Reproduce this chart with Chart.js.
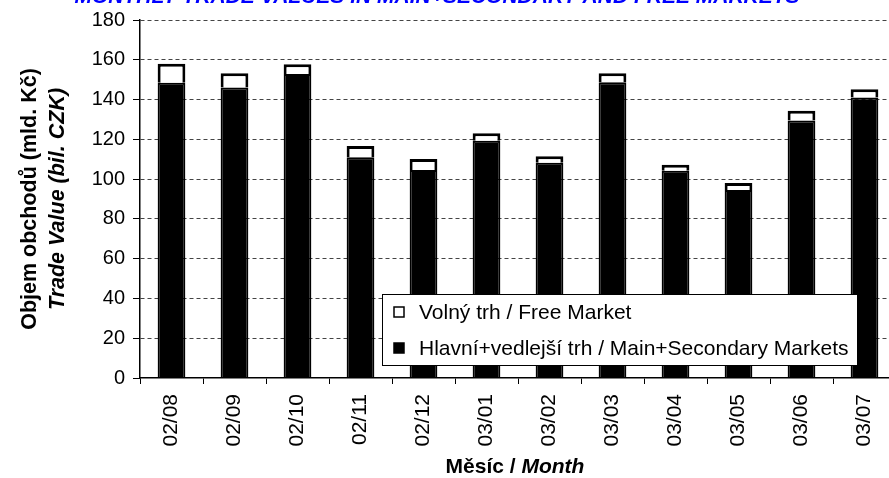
<!DOCTYPE html>
<html>
<head>
<meta charset="utf-8">
<script src="https://cdn.jsdelivr.net/npm/chart.js@4.4.1/dist/chart.umd.min.js"></script>
<style>
  html, body { margin: 0; padding: 0; background: #fff; overflow: hidden; }
  #wrap { position: relative; width: 900px; height: 478px; }
</style>
</head>
<body>
<div id="wrap"><canvas id="chart"></canvas></div>
<script>
const months = ['02/08', '02/09', '02/10', '02/11', '02/12', '03/01', '03/02', '03/03', '03/04', '03/05', '03/06', '03/07'];
const mainMarkets = [148.5, 146, 152.8, 111, 104.6, 119.3, 108.2, 148.7, 104.2, 94.5, 129.5, 141];
const freeMarket = [9.5, 7.2, 5, 5.7, 5.5, 3.7, 3.3, 4.5, 3, 3.5, 4.9, 4.2];
const yTicks = [0, 20, 40, 60, 80, 100, 120, 140, 160, 180];

const chartTitle = 'MONTHLY TRADE VALUES IN MAIN+SECONDARY AND FREE MARKETS';
const yTitle1 = 'Objem obchodů (mld. Kč)';
const yTitle2 = 'Trade Value (bil. CZK)';
const xTitle1 = 'Měsíc / ';
const xTitle2 = 'Month';

const FONT = '"Liberation Sans", Arial, sans-serif';

// title, axis titles with mixed styles and the boxed legend
const extras = {
    id: 'extras',
    afterDraw(chart){
        const ctx = chart.ctx;
        const area = chart.chartArea;
        ctx.save();

        ctx.fillStyle = '#0000ff';
        ctx.font = 'italic bold 21px ' + FONT;
        ctx.textAlign = 'center';
        ctx.textBaseline = 'alphabetic';
        ctx.fillText(chartTitle, 437, 3);

        ctx.fillStyle = '#000';
        const midY = (area.top + area.bottom) / 2;
        ctx.translate(0, midY);
        ctx.rotate(-Math.PI / 2);
        ctx.textBaseline = 'middle';
        ctx.font = 'bold 21.5px ' + FONT;
        ctx.fillText(yTitle1, 0, 30);
        ctx.font = 'italic bold 21.5px ' + FONT;
        ctx.fillText(yTitle2, 0, 58);
        ctx.setTransform(1, 0, 0, 1, 0, 0);

        ctx.textAlign = 'left';
        ctx.font = 'bold 21px ' + FONT;
        const w1 = ctx.measureText(xTitle1).width;
        ctx.font = 'italic bold 21px ' + FONT;
        const w2 = ctx.measureText(xTitle2).width;
        const x0 = 515 - (w1 + w2) / 2;
        ctx.font = 'bold 21px ' + FONT;
        ctx.fillText(xTitle1, x0, 467);
        ctx.font = 'italic bold 21px ' + FONT;
        ctx.fillText(xTitle2, x0 + w1, 467);

        // legend box
        const lx = 382, ly = 294, lw = 475, lh = 71;
        ctx.fillStyle = '#fff';
        ctx.fillRect(lx, ly, lw, lh);
        ctx.strokeStyle = '#000';
        ctx.lineWidth = 1;
        ctx.strokeRect(lx + 0.5, ly + 0.5, lw, lh);
        const items = [chart.data.datasets[1], chart.data.datasets[0]];
        const rows = [312, 348];
        ctx.font = '21px ' + FONT;
        ctx.textBaseline = 'middle';
        items.forEach((ds, i) => {
            ctx.fillStyle = ds.backgroundColor;
            ctx.fillRect(394, rows[i] - 5, 10, 10);
            ctx.strokeStyle = '#000';
            ctx.lineWidth = 1.5;
            ctx.strokeRect(394, rows[i] - 5, 10, 10);
            ctx.fillStyle = '#000';
            ctx.fillText(ds.label, 419, rows[i] + 1);
        });
        ctx.restore();
    }
};

new Chart(document.getElementById('chart'), {
    type: 'bar',
    data: {
        labels: months,
        datasets: [{
            label: 'Hlavní+vedlejší trh / Main+Secondary Markets',
            data: mainMarkets,
            backgroundColor: '#000',
            borderColor: '#000',
            borderWidth: 2,
            barPercentage: 0.44,
            categoryPercentage: 1
        }, {
            label: 'Volný trh / Free Market',
            data: freeMarket,
            backgroundColor: '#fff',
            borderColor: '#000',
            borderWidth: 3,
            barPercentage: 0.44,
            categoryPercentage: 1
        }]
    },
    options: {
        responsive: true,
        maintainAspectRatio: false,
        animation: false,
        layout: { padding: { left: 0, top: 20, right: 4, bottom: 0 } },
        plugins: {
            legend: { display: false },
            tooltip: { enabled: false }
        },
        scales: {
            x: {
                stacked: true,
                afterFit: s => { s.height = 100; },
                grid: {
                    offset: true,
                    drawOnChartArea: false,
                    drawTicks: true,
                    tickLength: 6,
                    tickColor: '#000'
                },
                border: { color: '#000', width: 1.5 },
                ticks: {
                    color: '#000',
                    font: { family: FONT, size: 21 },
                    minRotation: 90,
                    maxRotation: 90,
                    autoSkip: false,
                    padding: 10
                }
            },
            y: {
                stacked: true,
                min: 0,
                max: 180,
                afterFit: s => { s.width = 140; },
                afterBuildTicks: s => { s.ticks = yTicks.map(v => ({ value: v })); },
                grid: {
                    color: c => c.tick && c.tick.value === 0 ? 'rgba(0,0,0,0)' : '#444',
                    lineWidth: 1,
                    tickLength: 7,
                    tickColor: '#000'
                },
                border: { color: '#000', width: 1.5, dash: [4, 3] },
                ticks: {
                    color: '#000',
                    font: { family: FONT, size: 20 },
                    padding: 8
                }
            }
        }
    },
    plugins: [extras]
});
</script>
</body>
</html>
